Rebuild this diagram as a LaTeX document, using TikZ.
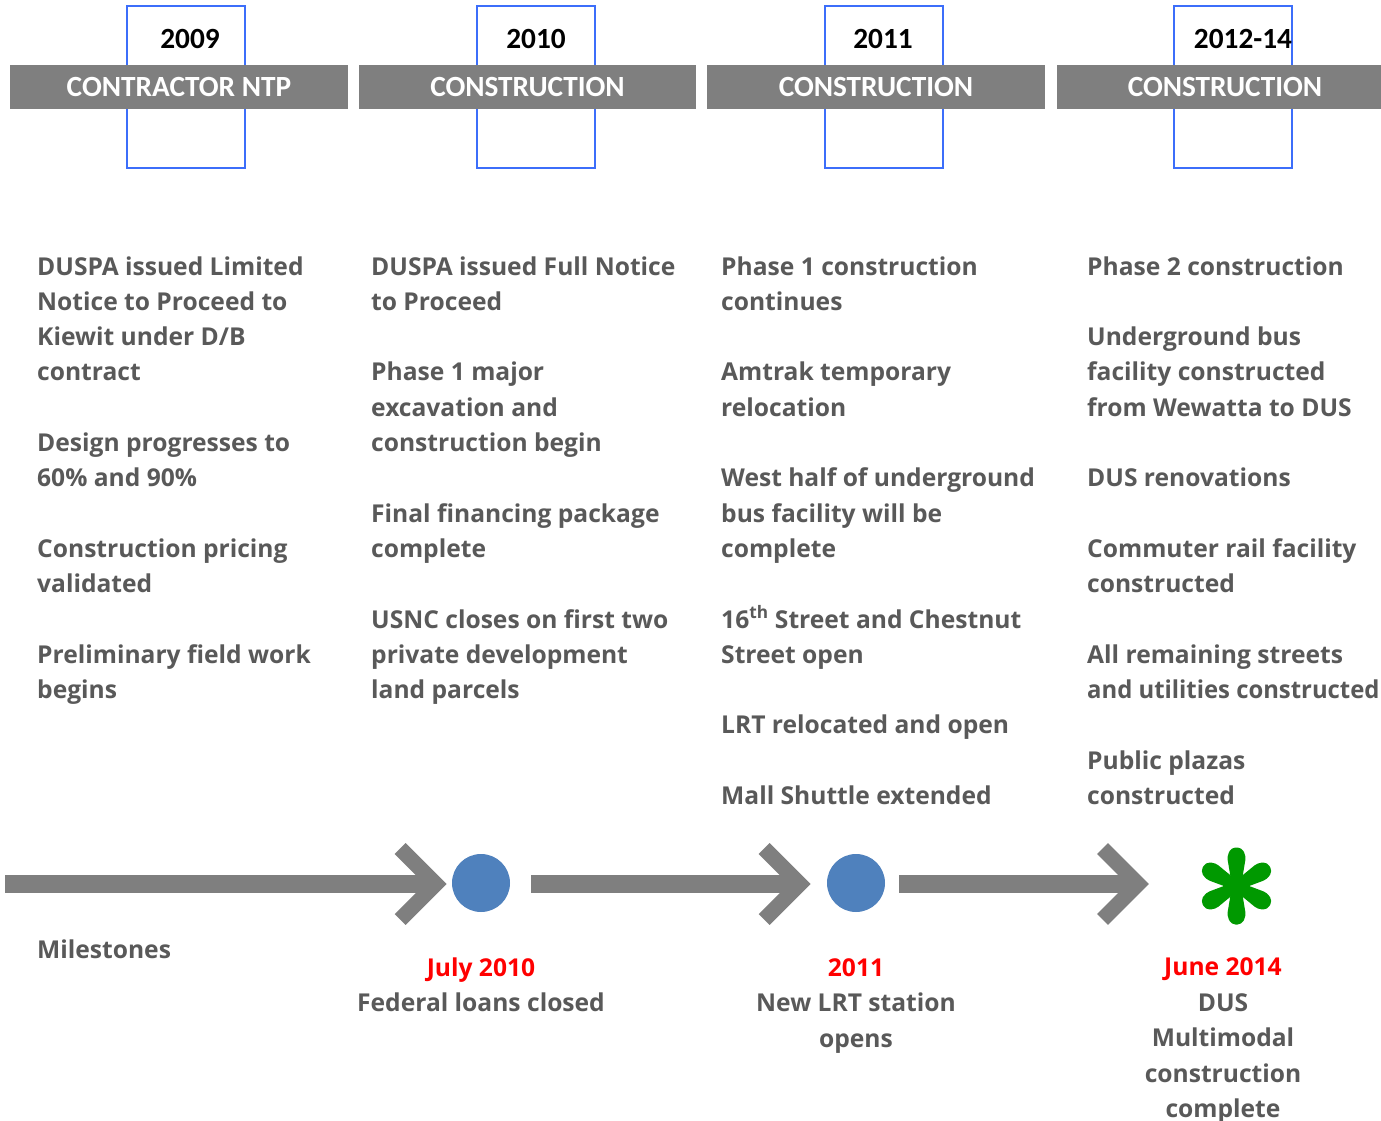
\documentclass[tikz,border=0pt]{standalone}
\usepackage{fontspec}
\setmainfont{Open Sans}
\newfontfamily\hdfont{Carlito}
\definecolor{barGray}{RGB}{127,127,127}
\definecolor{txtGray}{RGB}{89,89,89}
\definecolor{boxBlue}{RGB}{60,110,250}
\definecolor{dotBlue}{RGB}{79,129,189}
\definecolor{starGreen}{RGB}{0,153,0}
\definecolor{msRed}{RGB}{255,0,0}
\begin{document}
\begin{tikzpicture}[x=1pt,y=-1pt,
  yearbox/.style={draw=boxBlue, line width=2pt, minimum width=118pt, minimum height=162pt, inner sep=0},
  bar/.style={fill=barGray, minimum height=44pt, inner sep=0, text=white,
    font=\hdfont\bfseries\fontsize{29.3}{30}\selectfont},
  yeartext/.style={text=black, inner sep=0, font=\hdfont\bfseries\fontsize{29.3}{30}\selectfont},
  body/.style={text=txtGray, inner sep=0, align=left, anchor=base west,
    font=\bfseries\fontsize{24.6}{35.3}\selectfont},
  mstext/.style={text=txtGray, inner sep=0, align=center, anchor=base,
    font=\bfseries\fontsize{24.6}{35.5}\selectfont},
  shaft/.style={draw=barGray, line width=18pt},
  chevron/.style={draw=barGray, line width=15.5pt, miter limit=10},
  dot/.style={circle, fill=dotBlue, minimum size=58pt, inner sep=0},
]
\useasboundingbox (0,0) rectangle (1381,1121);
\fill[white] (0,0) rectangle (1381,1121);

% year boxes
\node[yearbox] (y1) at (186,87) {};
\node[yearbox] (y2) at (536,87) {};
\node[yearbox] (y3) at (884,87) {};
\node[yearbox] (y4) at (1233,87) {};
% header bars
\node[bar, minimum width=338pt] (b1) at (179,87) {CONTRACTOR NTP};
\node[bar, minimum width=337pt] (b2) at (527.5,87) {CONSTRUCTION};
\node[bar, minimum width=338pt] (b3) at (876,87) {CONSTRUCTION};
\node[bar, minimum width=336pt] (b4) at (1225,87) {CONSTRUCTION};
% years
\node[yeartext] (t1) at (190,39) {2009};
\node[yeartext] (t2) at (536,39) {2010};
\node[yeartext] (t3) at (883,39) {2011};
\node[yeartext] (t4) at (1243,39) {2012-14};

% body columns (anchor = baseline of the last line)
\node[body] (c1) at (37,698.6) {DUSPA issued Limited\\
Notice to Proceed to\\
Kiewit under D/B\\
contract\\[35.3pt]
Design progresses to\\
60\% and 90\%\\[35.3pt]
Construction pricing\\
validated\\[35.3pt]
Preliminary field work\\
begins};
\node[body] (c2) at (371,698.6) {DUSPA issued Full Notice\\
to Proceed\\[35.3pt]
Phase 1 major\\
excavation and\\
construction begin\\[35.3pt]
Final financing package\\
complete\\[35.3pt]
USNC closes on first two\\
private development\\
land parcels};
\node[body] (c3) at (721,804.5) {Phase 1 construction\\
continues\\[35.3pt]
Amtrak temporary\\
relocation\\[35.3pt]
West half of underground\\
bus facility will be\\
complete\\[35.3pt]
16\textsuperscript{th} Street and Chestnut\\
Street open\\[35.3pt]
LRT relocated and open\\[35.3pt]
Mall Shuttle extended};
\node[body] (c4) at (1087,804.5) {Phase 2 construction\\[35.3pt]
Underground bus\\
facility constructed\\
from Wewatta to DUS\\[35.3pt]
DUS renovations\\[35.3pt]
Commuter rail facility\\
constructed\\[35.3pt]
All remaining streets\\
\scalebox{0.97}[1]{and utilities constructed}\\[35.3pt]
Public plazas\\
constructed};

% timeline
\coordinate (s1) at (5,884);
\coordinate (v1) at (435.7,884);
\coordinate (s2) at (531,884);
\coordinate (v2) at (799.7,884);
\coordinate (s3) at (899,884);
\coordinate (v3) at (1138,884);
\draw[shaft] (s1) -- (v1);
\draw[shaft] (s2) -- (v2);
\draw[shaft] (s3) -- (v3);
\draw[chevron] ([shift={(-35.5,-35.5)}]v1) -- (v1) -- ([shift={(-35.5,35.5)}]v1);
\draw[chevron] ([shift={(-35.5,-35.5)}]v2) -- (v2) -- ([shift={(-35.5,35.5)}]v2);
\draw[chevron] ([shift={(-35.5,-35.5)}]v3) -- (v3) -- ([shift={(-35.5,35.5)}]v3);
\node[dot] (d1) at (481,883) {};
\node[dot] (d2) at (856,883) {};
\coordinate (ast) at (1236.5,886);
\foreach \a in {30,90,150,210,270,330}{
  \fill[starGreen, shift={(ast)}, rotate=\a, rounded corners=4pt]
    (0,-4.5) -- (30,-9.5) -- (38.5,-5) -- (38.5,5) -- (30,9.5) -- (0,4.5) -- cycle;
}

% milestone labels (anchor = baseline of the last line)
\node[mstext, anchor=base west] (ms) at (37,958) {Milestones};
\node[mstext] (m1) at (481,1011.5) {{\color{msRed}July 2010}\\Federal loans closed};
\node[mstext] (m2) at (856,1047) {{\color{msRed}2011}\\New LRT station\\opens};
\node[mstext] (m3) at (1223,1117.5) {{\color{msRed}June 2014}\\DUS\\Multimodal\\construction\\complete};
\end{tikzpicture}
\end{document}
